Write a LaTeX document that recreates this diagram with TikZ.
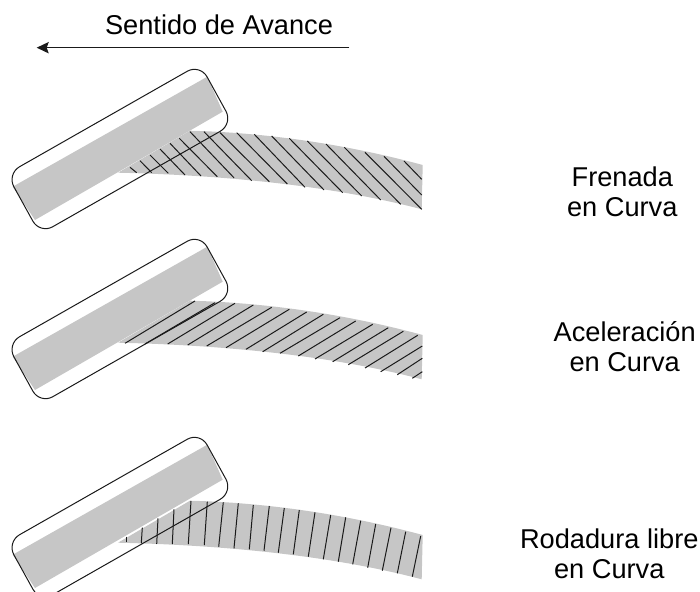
\documentclass[tikz,border=0pt]{standalone}
\usepackage{fontspec}
\setmainfont{Liberation Sans}
\usetikzlibrary{arrows.meta}
\definecolor{bandgray}{HTML}{C6C6C6}
\definecolor{inkline}{HTML}{1A1A1A}
\tikzset{
  bandfill/.style={fill=bandgray,draw=none},
  casing/.style={draw=inkline,line width=0.75pt,rounded corners=11pt,line join=round},
  hatchline/.style={draw=inkline,line width=0.75pt},
  label/.style={font=\fontsize{20.4}{22.5}\selectfont,align=center,inner sep=0pt,outer sep=0pt,text=black,anchor=base},
  motion/.style={draw=inkline,line width=1pt,-{Stealth[length=9pt,width=8.5pt,inset=1.5pt]}}
}
\newcommand{\tyreband}[1]{%
  \begin{scope}[shift={(0,#1)}]
    \fill[bandfill] (12.7,186.7) -- (207.3,76.7) -- (222.7,111.7) -- (35,220) -- cycle;
  \end{scope}}
\newcommand{\tyrepatch}[1]{%
  \begin{scope}[shift={(0,#1)}]
    \fill[bandfill] (118,172.7) -- (190,130.7) .. controls (280,133) and (360,148) .. (422.7,165)
      -- (421.7,209.3) .. controls (330,185) and (220,175) .. (118,172.7) -- cycle;
  \end{scope}}
\newcommand{\tyrecasing}[1]{%
  \begin{scope}[shift={(0,#1)}]
    \draw[casing] (6.8,174) -- (200,64) -- (233,124) -- (40,234) -- cycle;
  \end{scope}}
\begin{document}
\begin{tikzpicture}[x=0.75pt,y=-0.75pt]
\useasboundingbox (0,0) rectangle (700,592);
\clip (0,0) rectangle (700,592);
% tyre 1
\tyreband{0}\tyrepatch{0}
\foreach \xa/\ya/\xb/\yb in {
 130/167.3/136.7/172.7, 140/160.7/151.7/172.7, 150/155/168.3/173.3, 160/149/185/175,
 170/143.3/201/176, 179.3/138.3/217.3/176.7, 190/131.7/234/177.8, 204/131.7/251.7/180.7,
 220/132.7/269.3/181.7, 236.7/132.7/287.3/184, 254.3/134.3/305/187.3, 271.7/136/324/190,
 289.3/138.3/342.7/192.7, 307.3/141/361.7/196, 326/144/380.7/200, 344.3/147.3/400.7/204.3,
 365/152.3/421.7/209.3, 384/156.3/421.7/195, 404/161/421.7/179.3}
  \draw[hatchline] (\xa,\ya) -- (\xb,\yb);
\tyrecasing{0}
% tyre 2
\tyreband{170}\tyrepatch{170}
\foreach \xa/\ya/\xb/\yb in {
 125/343.3/195/301, 145/344/215/302.7, 167.7/344/235/303.3, 187.7/345/253.3/305,
 206.7/346/271.7/307.3, 226/347.7/289.3/309.3, 246/349.3/306.7/312, 262.7/351.7/323.3/314.3,
 280/353.3/340/317.7, 298.3/356/355.7/321, 315/359/372.7/324.3, 332.7/361.7/388.3/327.7,
 348.3/364.7/403.3/331.3, 365/368/417.7/335.3, 380.7/371.7/422.3/346, 397.3/374.7/422.3/358.3,
 412.3/378.3/422.3/371.7}
  \draw[hatchline] (\xa,\ya) -- (\xb,\yb);
\tyrecasing{170}
% tyre 3
\tyreband{368}\tyrepatch{370}
\foreach \xa/\ya/\xb/\yb in {
 126/536.7/126/542.3, 142.3/527.7/141.3/543.3, 158/518.3/156.7/544, 174/509.3/172.3/544,
 191/501/188.3/544, 207.3/501.7/204.3/545, 223.3/502.3/218.7/546.7, 238.3/503.3/234/548.3,
 253.3/505/249.3/549.3, 269.3/506/264/550.7, 284.3/508/278.3/552.7, 299.3/510/293.3/554.3,
 315/512.3/308.3/556.7, 330.7/515/323.3/559.3, 345.7/517.3/338.3/561.7, 360.7/520.7/352.7/564.3,
 375.7/524/367.7/567.7, 391/527.7/382.3/570.7, 405.7/531.7/397.3/573.3, 420.7/536/412.3/576.7}
  \draw[hatchline] (\xa,\ya) -- (\xb,\yb);
\tyrecasing{368}
% arrow and labels
\coordinate (arrowstart) at (349.3,47.7);
\coordinate (arrowtip) at (36.7,47.7);
\draw[motion] (arrowstart) -- (arrowtip);
\node[label] (sentido) at (219,34.3) {Sentido de Avance};
\node[label] (frenada) at (622.3,216) {Frenada\\en Curva};
\node[label] (acel) at (624.7,371) {Aceleración\\en Curva};
\node[label] (rodadura) at (609.3,578.7) {Rodadura libre\\en Curva};
\end{tikzpicture}
\end{document}
